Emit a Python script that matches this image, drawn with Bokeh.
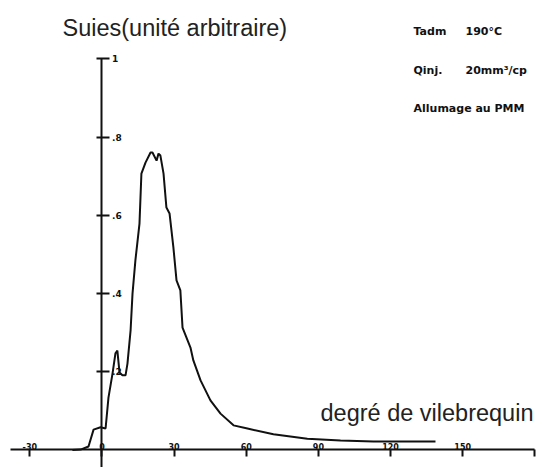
from bokeh.plotting import figure
from bokeh.models import Range1d, LinearAxis, FixedTicker, Label
from bokeh.embed import file_html
from bokeh.resources import INLINE

# --- data ---
crank_deg = [-12.3, -8.9, -5.6, -3.5, -0.6, 1.5, 2.7, 4.4, 5.6, 6.4, 7.3, 8.5, 9.8,
             10.6, 11.9, 12.7, 13.9, 15.6, 16.4, 18.1, 20.2, 21.0, 22.7, 23.5, 24.3,
             25.6, 26.8, 28.1, 29.7, 31.0, 32.6, 33.5, 36.8, 38.0, 41.0, 45.1, 49.3,
             54.7, 60.5, 71.3, 85.4, 99.2, 112.9, 127.0, 138.7]
soot = [0.0, 0.001, 0.009, 0.052, 0.058, 0.055, 0.134, 0.196, 0.247, 0.254, 0.198,
        0.191, 0.191, 0.221, 0.306, 0.400, 0.485, 0.579, 0.707, 0.735, 0.761, 0.761,
        0.740, 0.758, 0.753, 0.707, 0.620, 0.605, 0.518, 0.434, 0.408, 0.313, 0.262,
        0.229, 0.178, 0.127, 0.093, 0.063, 0.055, 0.040, 0.029, 0.024, 0.022, 0.022,
        0.022]

x_ticks = [-30, 0, 30, 60, 90, 120, 150, 180]
x_tick_labels = ["-30", "0", "30", "60", "90", "120", "150", ""]
y_ticks = [0.2, 0.4, 0.6, 0.8, 1.0]
y_tick_labels = [".2", ".4", ".6", ".8", "1"]

y_title = "Suies(unité arbitraire)"
x_title = "degré de vilebrequin"
notes_left = ["Tadm", "Qinj.", "Allumage au PMM"]
notes_right = ["190°C", "20mm³/cp", ""]

# Bokeh's page template has no body margin, so the canvas is the whole window
W, H = 542, 467
X0, X1 = -42.2, 183.2
Y0, Y1 = -0.0448, 1.1496

p = figure(width=W, height=H, x_range=Range1d(X0, X1), y_range=Range1d(Y0, Y1),
           output_backend="svg", toolbar_location=None,
           x_axis_location=None, y_axis_location=None, min_border=0)
p.outline_line_color = None
p.grid.visible = False
p.background_fill_color = "white"


def px2x(px):
    return X0 + px / W * (X1 - X0)


def py2y(py):
    return Y1 - py / H * (Y1 - Y0)


xaxis = LinearAxis(fixed_location=0, ticker=FixedTicker(ticks=x_ticks),
                   major_label_overrides=dict(zip(x_ticks, x_tick_labels)),
                   bounds=(-38, 180), axis_line_width=2, axis_line_color="#111",
                   major_tick_line_width=2, major_tick_line_color="#111",
                   major_tick_in=7, major_tick_out=0,
                   minor_tick_in=0, minor_tick_out=0,
                   major_label_standoff=0,
                   major_label_text_font="DejaVu Sans",
                   major_label_text_font_style="bold",
                   major_label_text_font_size="8px",
                   major_label_text_color="#111")
p.add_layout(xaxis, "above")

yaxis = LinearAxis(fixed_location=0, ticker=FixedTicker(ticks=y_ticks),
                   major_label_overrides=dict(zip(y_ticks, y_tick_labels)),
                   bounds=(-0.12, 1.0), axis_line_width=2, axis_line_color="#111",
                   major_tick_line_width=2, major_tick_line_color="#111",
                   major_tick_in=5, major_tick_out=8,
                   minor_tick_in=0, minor_tick_out=0,
                   major_label_standoff=2,
                   major_label_text_font="DejaVu Sans",
                   major_label_text_font_style="bold",
                   major_label_text_font_size="9px",
                   major_label_text_color="#111")
p.add_layout(yaxis, "right")

p.line(crank_deg, soot, line_width=2, color="#111")

p.add_layout(Label(x=px2x(62), y=py2y(27.5), text=y_title,
                   text_font="Liberation Sans", text_font_size="23.5px",
                   text_color="#222", text_baseline="alphabetic"))
p.add_layout(Label(x=px2x(320), y=py2y(412), text=x_title,
                   text_font="Liberation Sans", text_font_size="23.5px",
                   text_color="#222", text_baseline="alphabetic"))

rows_py = [31, 70, 108]
for left, right, py in zip(notes_left, notes_right, rows_py):
    p.add_layout(Label(x=px2x(413), y=py2y(py), text=left,
                       text_font="DejaVu Sans", text_font_size="11px",
                       text_font_style="bold",
                       text_color="#111", text_baseline="middle"))
    if right:
        p.add_layout(Label(x=px2x(465), y=py2y(py), text=right,
                           text_font="DejaVu Sans", text_font_size="11px",
                           text_font_style="bold",
                           text_color="#111", text_baseline="middle"))

open("out.html", "w").write(file_html(p, INLINE))
